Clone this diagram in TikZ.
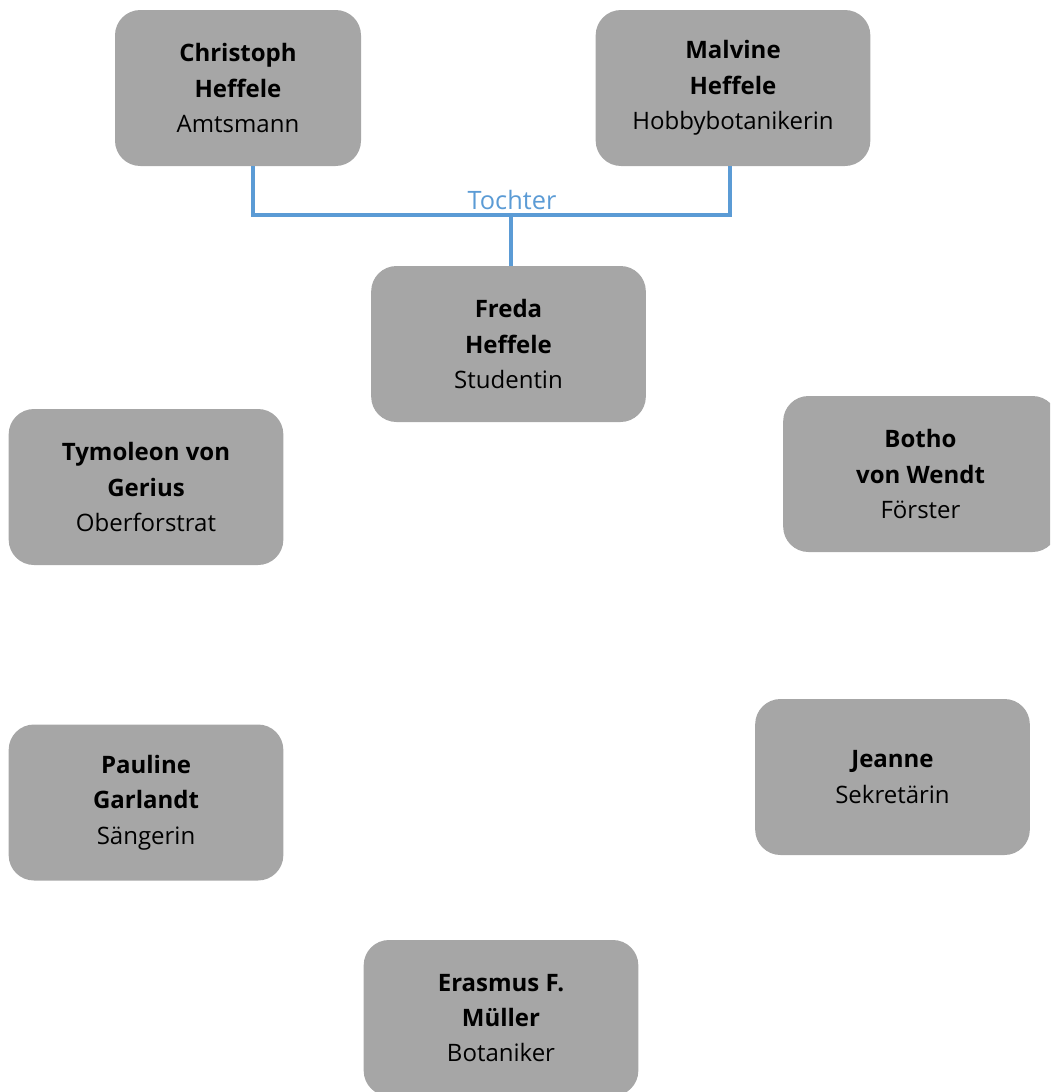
\documentclass[tikz,border=0pt]{standalone}
\usepackage{fontspec}
\setmainfont{Open Sans}
\newfontfamily\labelfont{Open Sans}
\definecolor{boxgray}{HTML}{A6A6A6}
\definecolor{tieblue}{HTML}{5B9BD5}
\tikzset{
  person/.style={fill=boxgray,rounded corners=19pt,minimum width=206pt,minimum height=117pt,
    align=center,inner sep=0pt,font=\fontsize{18}{26.5}\selectfont},
  tie/.style={color=tieblue,line width=3pt}
}
\begin{document}
\begin{tikzpicture}[x=0.75pt,y=-0.75pt]
		\useasboundingbox (0,0) rectangle (1050,1092);
		\clip (0,0) rectangle (1050,1092);
		\node [person,minimum width=184.5pt] at (238,88) (chr) {\textbf{Christoph}\\\textbf{Heffele}\\Amtsmann};
		\node [person] at (733,88) (mal) {\textbf{Malvine}\\\textbf{Heffele}\\Hobbybotanikerin};
		\node [person] at (508.5,344) (fre) {\textbf{Freda}\\\textbf{Heffele}\\Studentin};
		\node [person] at (146,487) (tym) {\textbf{Tymoleon von}\\\textbf{Gerius}\\Oberforstrat};
		\node [person] at (920.5,474) (bot) {\textbf{Botho}\\\textbf{von Wendt}\\Förster};
		\node [person] at (146,802.5) (pau) {\textbf{Pauline}\\\textbf{Garlandt}\\Sängerin};
		\node [person] at (892.5,777) (jea) {\textbf{Jeanne}\\Sekretärin};
		\node [person] at (501,1018) (era) {\textbf{Erasmus F.}\\\textbf{Müller}\\Botaniker};
		\coordinate (fork) at (511,215);
		\draw [tie] ([xshift=11.25pt]chr.south) |- (fork) -| ([xshift=-2.25pt]mal.south);
		\draw [tie] (fork) -- (fork |- fre.north);
		\node [color=tieblue,font=\labelfont\fontsize{19}{21}\selectfont,anchor=base] at (512,209) (tochter) {Tochter};
	\end{tikzpicture}
\end{document}
